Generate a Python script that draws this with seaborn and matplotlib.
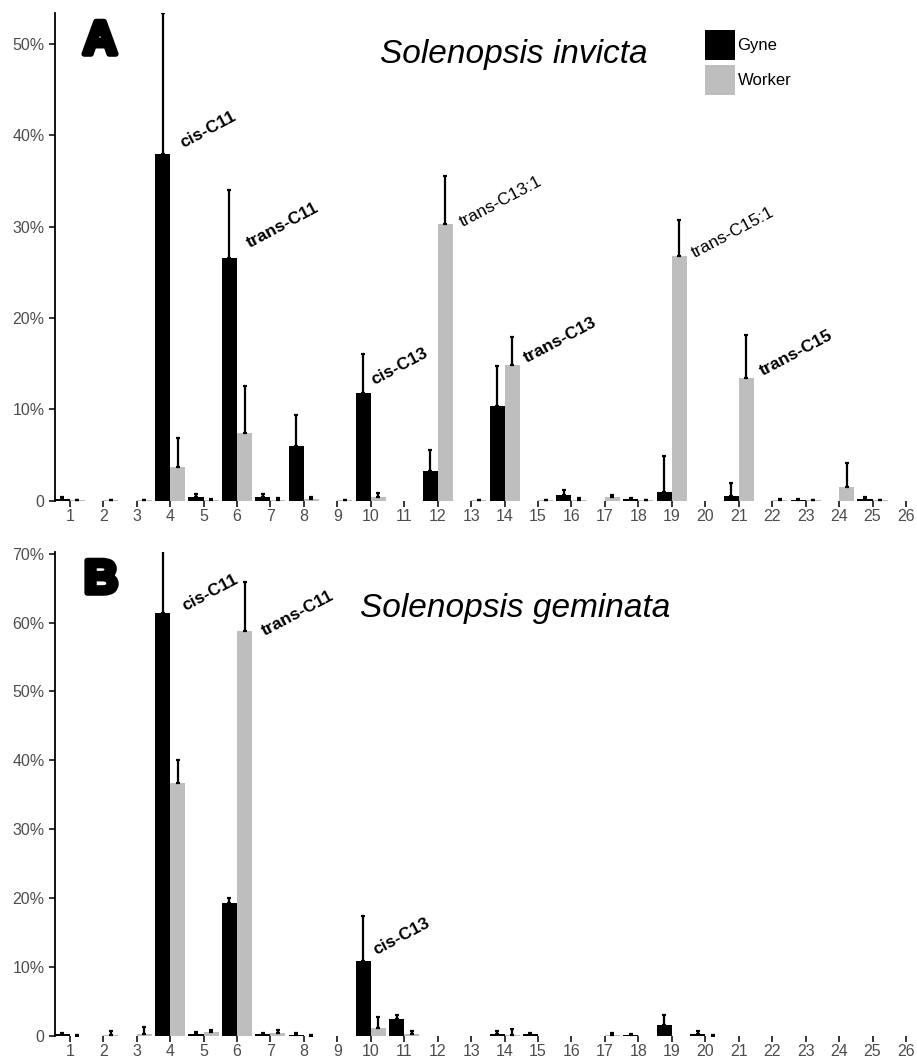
import numpy as np
import pandas as pd
import seaborn as sns
import matplotlib

matplotlib.use("agg")

import matplotlib.pyplot as plt
import matplotlib.patheffects as pe
from matplotlib.patches import Patch

# compounds 1..26
compounds = list(range(1, 27))
castes = ["Gyne", "Worker"]

# Panel A: Solenopsis invicta (percent)
invicta_gyne = [0.2, 0, 0, 38.0, 0.35, 26.6, 0.35, 6.0, 0, 11.8, 0, 3.25, 0,
                10.4, 0, 0.6, 0, 0.15, 1.0, 0, 0.55, 0, 0.1, 0, 0.2, 0]
invicta_gyne_err = [0.15, 0, 0, 15.4, 0.35, 7.4, 0.35, 3.4, 0, 4.3, 0, 2.35, 0,
                    4.3, 0, 0.6, 0, 0.15, 3.9, 0, 1.35, 0, 0.1, 0, 0.15, 0]
invicta_worker = [0.05, 0.05, 0.05, 3.7, 0.1, 7.4, 0.1, 0.15, 0.05, 0.4, 0, 30.3, 0.05,
                  14.9, 0.05, 0.1, 0.35, 0.05, 26.8, 0, 13.4, 0.05, 0.05, 1.45, 0.05, 0]
invicta_worker_err = [0.05, 0.05, 0.05, 3.2, 0.1, 5.2, 0.15, 0.2, 0.05, 0.4, 0, 5.2, 0.05,
                      3.0, 0.05, 0.15, 0.3, 0.05, 3.9, 0, 4.7, 0.1, 0.05, 2.7, 0.05, 0]

# Panel B: Solenopsis geminata (percent)
geminata_gyne = [0.25, 0, 0, 61.4, 0.3, 19.3, 0.25, 0.2, 0, 10.9, 2.5, 0, 0,
                 0.3, 0.25, 0, 0, 0.1, 1.65, 0.3, 0, 0, 0, 0, 0, 0]
geminata_gyne_err = [0.2, 0, 0, 9.0, 0.25, 0.75, 0.2, 0.25, 0, 6.5, 0.6, 0, 0,
                     0.4, 0.25, 0, 0, 0.2, 1.45, 0.4, 0, 0, 0, 0, 0, 0]
geminata_worker = [0.05, 0.2, 0.3, 36.7, 0.55, 58.8, 0.5, 0.05, 0, 1.2, 0.25, 0, 0,
                   0.2, 0, 0, 0.1, 0, 0, 0.05, 0, 0, 0, 0, 0, 0]
geminata_worker_err = [0.1, 0.5, 0.95, 3.3, 0.3, 7.1, 0.4, 0.05, 0, 1.6, 0.55, 0, 0,
                       0.8, 0, 0, 0.4, 0, 0, 0.15, 0, 0, 0, 0, 0, 0]

# compound labels: (compound, text, weight, x offset, y)
labels_a = [(4, "cis-C11", "bold", 0.39, 38.6),
            (6, "trans-C11", "bold", 0.39, 27.7),
            (10, "cis-C13", "bold", 0.12, 12.7),
            (12, "trans-C13:1", "normal", 0.76, 30.0),
            (14, "trans-C13", "bold", 0.67, 15.1),
            (19, "trans-C15:1", "normal", 0.69, 26.6),
            (21, "trans-C15", "bold", 0.73, 13.7)]
labels_b = [(4, "cis-C11", "bold", 0.45, 61.6),
            (6, "trans-C11", "bold", 0.84, 58.1),
            (10, "cis-C13", "bold", 0.18, 11.7)]

palette = {"Gyne": "#000000", "Worker": "#BEBEBE"}
TICK_GREY = "#4D4D4D"


def make_frame(gyne, gyne_err, worker, worker_err):
    return pd.DataFrame({
        "compound": [str(c) for c in compounds] * 2,
        "caste": ["Gyne"] * len(compounds) + ["Worker"] * len(compounds),
        "value": gyne + worker,
        "err": gyne_err + worker_err,
    })


def draw_panel(ax, df, ymax, yticks, labels):
    order = [str(c) for c in compounds]
    sns.barplot(data=df, x="compound", y="value", hue="caste", order=order,
                hue_order=castes, palette=palette, width=0.9, errorbar=None,
                saturation=1, linewidth=0, legend=False, ax=ax)

    # upper-only error bars at bar centres (skip empty ones)
    for container, caste in zip(ax.containers, castes):
        sub = df[df["caste"] == caste].set_index("compound").loc[order]
        xs = np.array([b.get_x() + b.get_width() / 2 for b in container])
        ys = np.array([b.get_height() for b in container])
        errs = sub["err"].values
        keep = errs > 0
        ax.errorbar(xs[keep], ys[keep], yerr=[np.zeros(keep.sum()), errs[keep]],
                    fmt="none", ecolor="black", elinewidth=1.6, capsize=1.2,
                    capthick=1.6, zorder=3)

    for comp, text, weight, dx, y in labels:
        ax.text(comp - 1 + dx, y, text, rotation=28, rotation_mode="anchor",
                ha="left", va="baseline", fontsize=12.5, fontweight=weight,
                color="black")

    ax.set_xlim(-0.44, 25.33)
    ax.set_ylim(0, ymax)
    ax.set_yticks(yticks)
    ax.set_yticklabels(["0"] + [f"{t}%" for t in yticks[1:]])
    ax.set_xticks(range(len(compounds)))
    ax.set_xticklabels([str(c) for c in compounds])
    ax.set_xlabel("")
    ax.set_ylabel("")
    for side in ["top", "right", "bottom"]:
        ax.spines[side].set_visible(False)
    ax.spines["left"].set_linewidth(1.3)
    ax.spines["left"].set_color("black")
    ax.tick_params(axis="both", bottom=True, left=True, colors="black",
                   labelcolor=TICK_GREY, labelsize=11.5, length=4, width=1.1)
    ax.tick_params(axis="x", pad=2)


sns.set_style("white")
plt.rcParams["font.family"] = ["Liberation Sans", "DejaVu Sans"]
plt.rcParams["text.color"] = "black"

fig = plt.figure(figsize=(9.17, 10.59), dpi=100)
ax_a = fig.add_axes([0.06, 0.5272, 0.94, 0.4605])
ax_b = fig.add_axes([0.06, 0.0217, 0.94, 0.4575])
ax_a.patch.set_alpha(0)
ax_b.patch.set_alpha(0)

draw_panel(ax_a, make_frame(invicta_gyne, invicta_gyne_err, invicta_worker, invicta_worker_err),
           53.4, [0, 10, 20, 30, 40, 50], labels_a)
draw_panel(ax_b, make_frame(geminata_gyne, geminata_gyne_err, geminata_worker, geminata_worker_err),
           70.3, [0, 10, 20, 30, 40, 50, 60, 70], labels_b)

# panel letters
heavy = [pe.withStroke(linewidth=4, foreground="black")]
fig.text(83 / 917, 1 - 54 / 1059, "A", fontsize=34, fontweight="bold", color="black",
         ha="left", va="baseline", path_effects=heavy)
fig.text(84 / 917, 1 - 593 / 1059, "B", fontsize=34, fontweight="bold", color="black",
         ha="left", va="baseline", path_effects=heavy)

# species titles
fig.text(380 / 917, 1 - 63 / 1059, "Solenopsis invicta", fontsize=24,
         fontstyle="italic", color="black", ha="left", va="baseline")
fig.text(360 / 917, 1 - 617 / 1059, "Solenopsis geminata", fontsize=24,
         fontstyle="italic", color="black", ha="left", va="baseline")

# legend
handles = [Patch(facecolor=palette[c], edgecolor="none", label=c) for c in castes]
fig.legend(handles=handles, loc="upper left",
           bbox_to_anchor=(705 / 917, 1 - 30 / 1059), frameon=False,
           fontsize=12, handlelength=1.8, handleheight=2.39,
           labelspacing=0.3, handletextpad=0.15, borderaxespad=0, borderpad=0)

fig.savefig("out.png", dpi=100)
